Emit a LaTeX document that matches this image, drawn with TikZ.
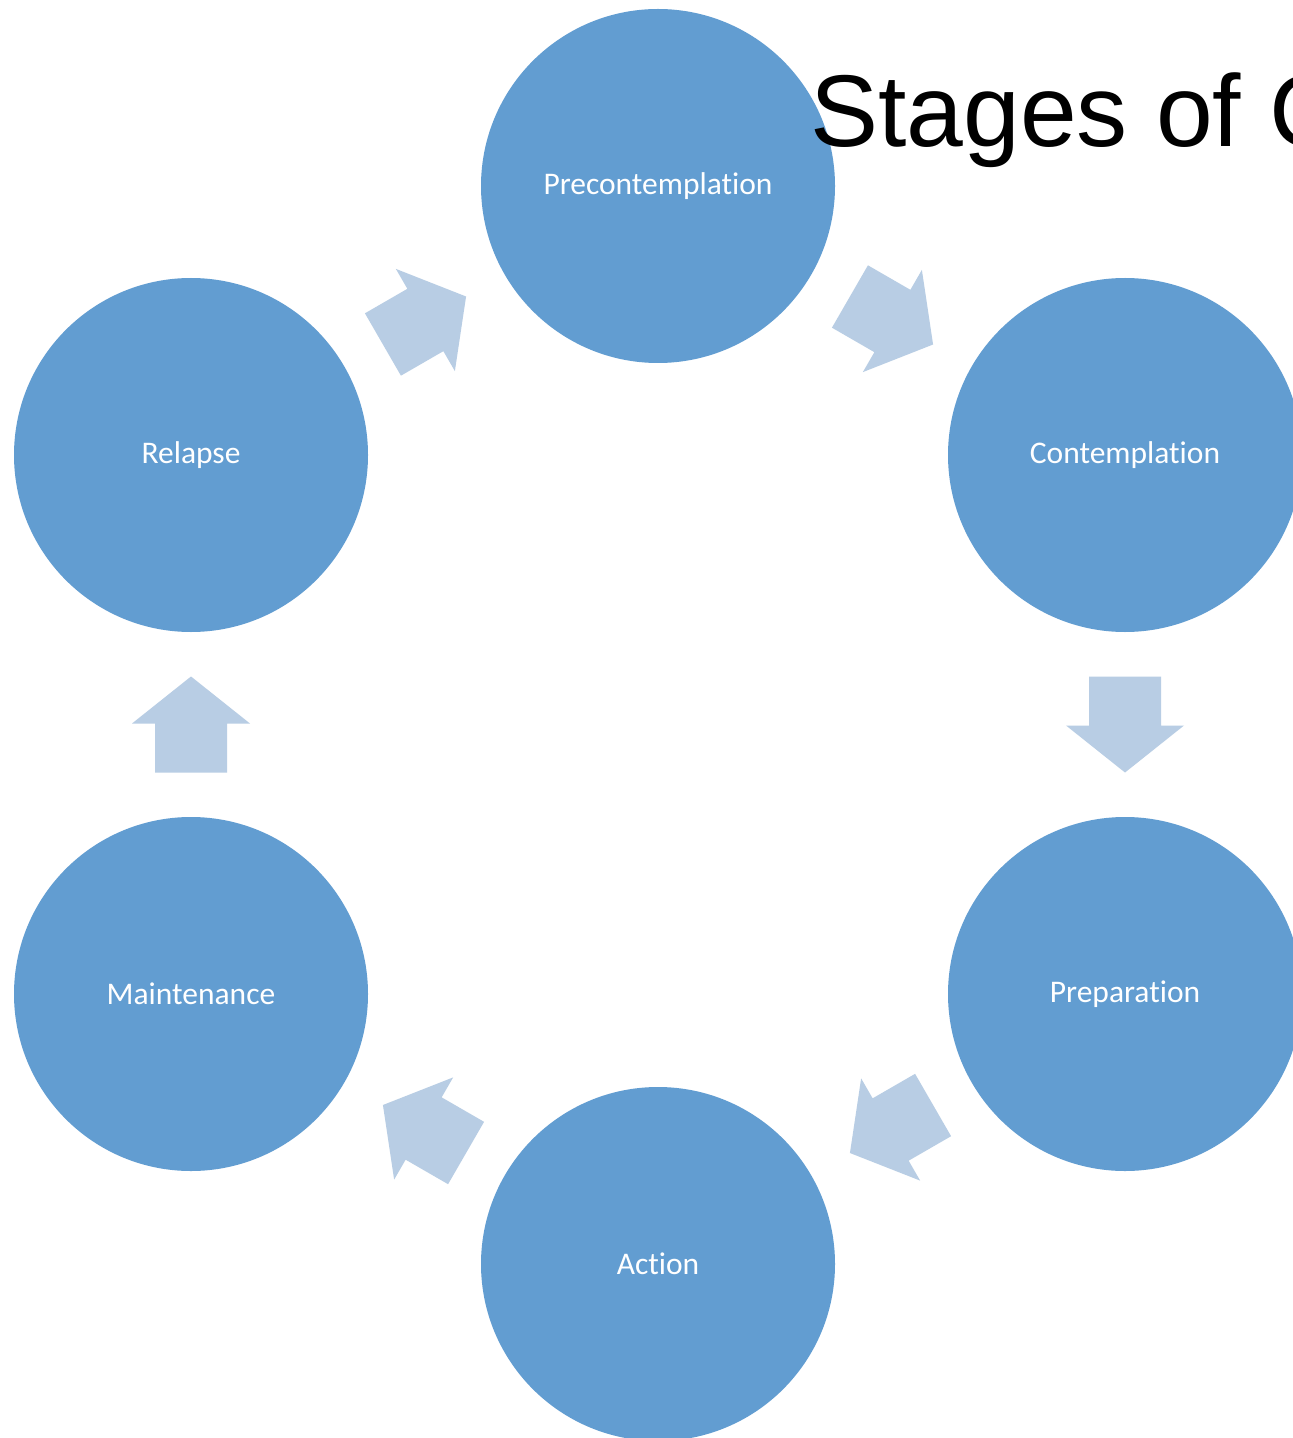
\documentclass[tikz,border=0pt]{standalone}
\usepackage{fontspec}
\setmainfont{Liberation Sans}
\newfontfamily\calibfont[Ligatures=NoCommon]{Carlito}
\usetikzlibrary{calc}
\definecolor{circblue}{RGB}{98,157,209}
\definecolor{arrblue}{RGB}{184,205,228}
\newcommand\blockarrow[2]{%
  \begin{scope}[shift={(#1)}, rotate=#2]
    \fill[arrblue] (-48,-36) -- (1,-36) -- (1,-59) -- (48,0) -- (1,59) -- (1,36) -- (-48,36) -- cycle;
  \end{scope}}
\begin{document}
\begin{tikzpicture}[x=0.5pt,y=-0.5pt,
  stage/.style={circle, fill=circblue, minimum size=177pt, inner sep=0pt,
    text=white, font=\calibfont\fontsize{15.75}{18}\selectfont},
  titletext/.style={anchor=base west, inner sep=0pt, text=black,
    font=\fontsize{51}{60}\selectfont}]
\useasboundingbox (0,0) rectangle (1293,1438);
\clip (0,0) rectangle (1293,1438);
\fill[white] (0,0) rectangle (1293,1438);
% stages
\node[stage] (pre)   at (658,186)  {Precontemplation};
\node[stage] (con)   at (1125,455) {Contemplation};
\node[stage] (prep)  at (1125,994) {Preparation};
\node[stage] (act)   at (658,1264) {Action};
\node[stage] (maint) at (191,994)  {Maintenance};
\node[stage] (rel)   at (191,455)  {Relapse};
% arrow positions
\coordinate (a1) at ($(pre)!0.5!(con)$);
\coordinate (a2) at ($(con)!0.5!(prep)$);
\coordinate (a3) at ($(prep)!0.5!(act)$);
\coordinate (a4) at ($(act)!0.5!(maint)$);
\coordinate (a5) at ($(maint)!0.5!(rel)$);
\coordinate (a6) at ($(rel)!0.5!(pre)$);
\blockarrow{a1}{-30}
\blockarrow{a2}{-90}
\blockarrow{a3}{-150}
\blockarrow{a4}{150}
\blockarrow{a5}{90}
\blockarrow{a6}{30}
% title
\node[titletext] (title) at (810,147) {Stages of Change};
\end{tikzpicture}
\end{document}
